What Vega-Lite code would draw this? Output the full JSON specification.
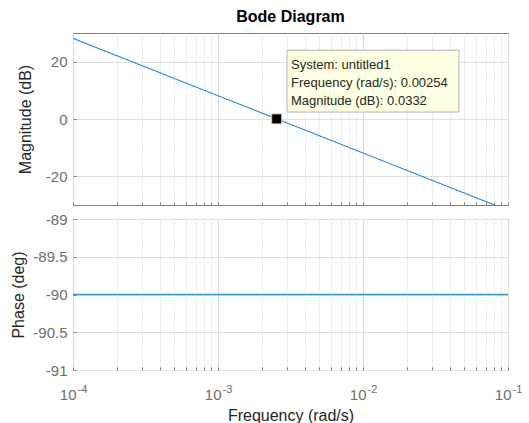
{
  "$schema": "https://vega.github.io/schema/vega-lite/v6.json",
  "padding": {"left": 10, "top": 8, "right": 0, "bottom": 0},
  "background": "white",
  "config": {
    "font": "Liberation Sans",
    "view": {"stroke": "#7f7f7f", "strokeWidth": 1},
    "axis": {
      "labelFont": "Liberation Sans", "labelFontSize": 15, "labelColor": "#6e6e6e",
      "titleFont": "Liberation Sans", "titleFontSize": 16, "titleFontWeight": "normal", "titleColor": "#262626",
      "domain": false, "ticks": true, "tickSize": -3, "tickColor": "#7f7f7f", "gridOpacity": 1
    }
  },
  "datasets": {
    "mag": [
      {"f": 0.0001, "m": 28.13},
      {"f": 0.001, "m": 8.13},
      {"f": 0.01, "m": -11.87},
      {"f": 0.08, "m": -29.93}
    ],
    "phase": [
      {"f": 0.0001, "p": -90},
      {"f": 0.001, "p": -90},
      {"f": 0.01, "p": -90},
      {"f": 0.1, "p": -90}
    ],
    "tip": [{"f": 0.00254, "m": 0.0332}],
    "box": [{"f1": 0.002991, "f2": 0.04592, "m1": 24.0, "m2": 2.43}],
    "tiptext": [
      {"f": 0.003186, "m": 18.78, "t": "System: untitled1"},
      {"f": 0.003186, "m": 12.52, "t": "Frequency (rad/s): 0.00254"},
      {"f": 0.003186, "m": 6.26, "t": "Magnitude (dB): 0.0332"}
    ]
  },
  "spacing": 5,
  "vconcat": [
    {
      "width": 435,
      "height": 172,
      "title": {"text": "Bode Diagram", "fontSize": 16, "fontWeight": "bold", "color": "#000000", "frame": "group", "anchor": "middle", "offset": 8},
      "layer": [
        {
          "data": {"name": "mag"},
          "mark": {"type": "line", "color": "#2f8fd3", "strokeWidth": 1.2, "clip": true},
          "encoding": {
            "x": {
              "field": "f", "type": "quantitative",
              "scale": {"type": "log", "domain": [0.0001, 0.1]},
              "axis": {
                "title": null, "labels": false,
                "values": [0.0001,0.0002,0.0003,0.0004,0.0005,0.0006,0.0007,0.0008,0.0009,0.001,0.002,0.003,0.004,0.005,0.006,0.007,0.008,0.009,0.01,0.02,0.03,0.04,0.05,0.06,0.07,0.08,0.09,0.1],
                "gridDash": {"condition": {"test": "abs(log(datum.value)/LN10 - round(log(datum.value)/LN10)) < 0.001", "value": []}, "value": [1, 2]},
                "gridColor": {"condition": {"test": "abs(log(datum.value)/LN10 - round(log(datum.value)/LN10)) < 0.001", "value": "#dadada"}, "value": "#cfcfcf"}
              }
            },
            "y": {
              "field": "m", "type": "quantitative",
              "scale": {"domain": [-30, 30], "nice": false},
              "axis": {"values": [-20, 0, 20], "title": "Magnitude (dB)", "titlePadding": 12, "labelPadding": 9, "gridColor": "#e0e0e0", "format": ".3~r", "labelExpr": "replace(datum.label, '\u2212', '-')"}
            }
          }
        },
        {
          "data": {"name": "box"},
          "mark": {"type": "rect", "fill": "#ffffe1", "stroke": "#b4b4b4", "strokeWidth": 1},
          "encoding": {
            "x": {"field": "f1", "type": "quantitative"},
            "x2": {"field": "f2"},
            "y": {"field": "m1", "type": "quantitative"},
            "y2": {"field": "m2"}
          }
        },
        {
          "data": {"name": "tiptext"},
          "mark": {"type": "text", "align": "left", "baseline": "middle", "fontSize": 13, "color": "#262626", "font": "Liberation Sans"},
          "encoding": {
            "x": {"field": "f", "type": "quantitative"},
            "y": {"field": "m", "type": "quantitative"},
            "text": {"field": "t"}
          }
        },
        {
          "data": {"name": "tip"},
          "mark": {"type": "square", "size": 100, "filled": true, "color": "#000000", "stroke": "#d8d0a0", "strokeWidth": 1, "opacity": 1},
          "encoding": {
            "x": {"field": "f", "type": "quantitative"},
            "y": {"field": "m", "type": "quantitative"}
          }
        }
      ]
    },
    {
      "width": 435,
      "height": 151,
      "data": {"name": "phase"},
      "resolve": {"axis": {"x": "independent"}},
      "encoding": {
        "y": {
          "field": "p", "type": "quantitative",
          "scale": {"domain": [-91, -89], "nice": false, "zero": false},
          "axis": {"values": [-91, -90.5, -90, -89.5, -89], "title": "Phase (deg)", "titlePadding": 6, "labelPadding": 9, "labelOverlap": false, "gridColor": "#e0e0e0", "format": ".3~r", "labelExpr": "replace(datum.label, '\u2212', '-')"}
        }
      },
      "layer": [
        {
          "mark": {"type": "line", "color": "#3a94d6", "strokeWidth": 1.6},
          "encoding": {
            "x": {
              "field": "f", "type": "quantitative",
              "scale": {"type": "log", "domain": [0.0001, 0.1]},
              "axis": {
                "orient": "bottom",
                "title": "Frequency  (rad/s)", "titlePadding": 5,
                "labelPadding": 20, "labelAlign": "right", "labelOffset": 3,
                "values": [0.0001,0.0002,0.0003,0.0004,0.0005,0.0006,0.0007,0.0008,0.0009,0.001,0.002,0.003,0.004,0.005,0.006,0.007,0.008,0.009,0.01,0.02,0.03,0.04,0.05,0.06,0.07,0.08,0.09,0.1],
                "labelExpr": "abs(log(datum.value)/LN10 - round(log(datum.value)/LN10)) < 0.001 ? '10' : ''",
                "labelOverlap": false,
                "labelFlush": false,
                "gridDash": {"condition": {"test": "abs(log(datum.value)/LN10 - round(log(datum.value)/LN10)) < 0.001", "value": []}, "value": [1, 2]},
                "gridColor": {"condition": {"test": "abs(log(datum.value)/LN10 - round(log(datum.value)/LN10)) < 0.001", "value": "#dadada"}, "value": "#cfcfcf"}
              }
            }
          }
        },
        {
          "mark": {"type": "line", "strokeOpacity": 0},
          "encoding": {
            "x": {
              "field": "f", "type": "quantitative",
              "axis": {
                "orient": "bottom", "title": null, "grid": false, "ticks": false,
                "labelPadding": 13, "labelAlign": "left", "labelOffset": 4, "labelFontSize": 11,
                "values": [0.0001, 0.001, 0.01, 0.1],
                "labelExpr": "'-' + format(-round(log(datum.value)/LN10), 'd')",
                "labelOverlap": false,
                "labelFlush": false
              }
            }
          }
        }
      ]
    }
  ]
}
